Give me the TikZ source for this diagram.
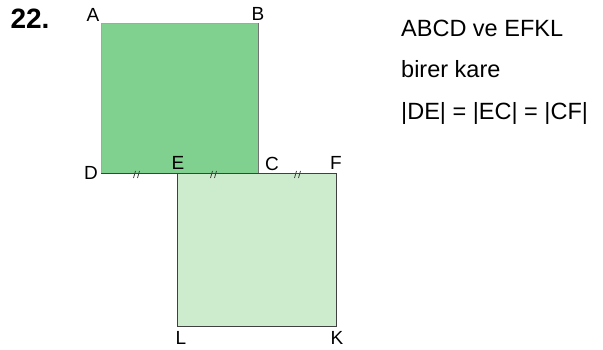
\documentclass[tikz,border=0pt]{standalone}
\usepackage{fontspec}
\setmainfont{Liberation Sans}
\usetikzlibrary{positioning}
\definecolor{koyukare}{RGB}{128,208,144}
\definecolor{acikkare}{RGB}{205,235,205}
\tikzset{
kare/.style={draw=black!75, line width=0.9pt},
harf/.style={font=\fontsize{19}{19}\selectfont, inner sep=0pt},
bilgi/.style={font=\fontsize{23.5}{23.5}\selectfont, inner sep=0pt, anchor=base west},
esit/.style={line width=0.8pt, black!75}
}

\begin{document}
\begin{tikzpicture}[x=1pt, y=-1pt]
\useasboundingbox (0,0) rectangle (603,350);
% vertices
\coordinate (A) at (101,23);
\coordinate (B) at (258,23);
\coordinate (C) at (258,173);
\coordinate (D) at (101,173);
\coordinate (E) at (177,173);
\coordinate (F) at (336,173);
\coordinate (K) at (336,326);
\coordinate (L) at (177,326);
% squares
\fill[koyukare] (A) rectangle (C);
\draw[black!35, line width=0.8pt] (D) -- (A) -- (B);
\draw[black!55, line width=0.9pt] (B) -- (C);
\fill[acikkare] (E) rectangle (K);
\draw[kare] (D) -- (F) -- (K) -- (L) -- (E);
% equal marks
\foreach \m in {137,214,298}
  \draw[esit] (\m-3.5,178) -- (\m-1.5,171) (\m+0.5,178) -- (\m+2.5,171);
% labels
\node[font=\bfseries\fontsize{28}{28}\selectfont, inner sep=0pt] (no) at (30,19) {22.};
\node[harf] (lA) at (93,15) {A};
\node[harf] (lB) at (258,14) {B};
\node[harf] (lD) at (91,173) {D};
\node[harf] (lE) at (178,163) {E};
\node[harf] (lC) at (272,164) {C};
\node[harf] (lF) at (336,163) {F};
\node[harf] (lL) at (181,338) {L};
\node[harf] (lK) at (337,338) {K};
\node[bilgi] (t1) at (401,37) {ABCD ve EFKL};
\node[bilgi] (t2) at (401,78) {birer kare};
\node[bilgi] (t3) at (401,120) {|DE| = |EC| = |CF|};
\end{tikzpicture}
\end{document}
